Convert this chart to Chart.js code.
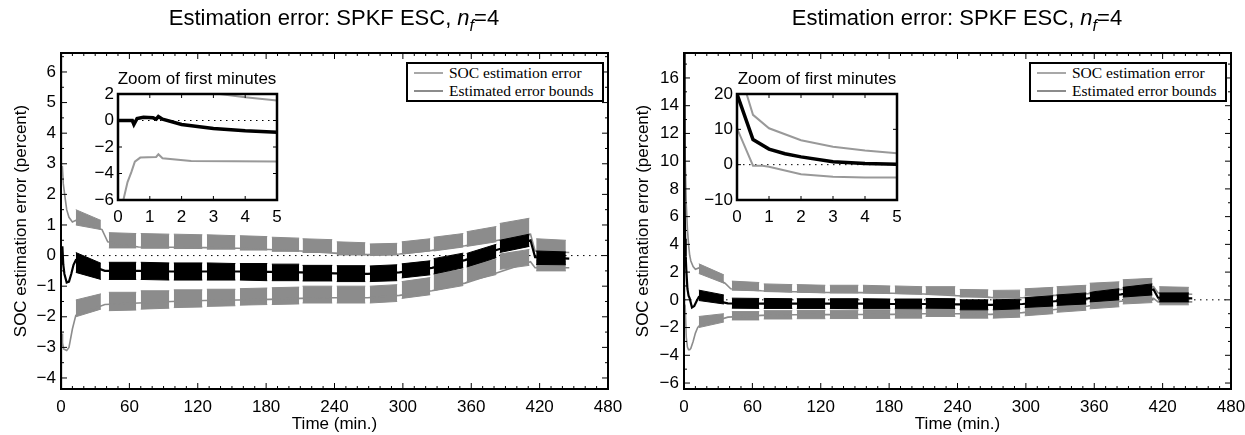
<!DOCTYPE html>
<html>
<head>
<meta charset="utf-8">
<script src="https://cdn.jsdelivr.net/npm/chart.js@4/dist/chart.umd.min.js"></script>
<style>
  body { margin: 0; background: #fff; }
  #wrap { position: relative; width: 1245px; height: 435px; overflow: hidden; font-family: "Liberation Sans", Arial, sans-serif; color: #000; }
  canvas { position: absolute; }
  .title { position: absolute; top: 5px; font-size: 22px; line-height: 26px; white-space: nowrap; transform: translateX(-50%); }
  .title sub { font-size: 16px; vertical-align: -6px; line-height: 0; }
  .ititle { position: absolute; top: 69px; font-size: 17px; line-height: 20px; white-space: nowrap; transform: translateX(-50%); }
  .legend { position: absolute; top: 62px; width: 198px; height: 40px; box-sizing: border-box; border: 2px solid #000; background: #fff;
            font-family: "Liberation Serif", "Times New Roman", serif; font-size: 15.5px; line-height: 18px; }
  .legend div { height: 18px; white-space: nowrap; }
  .legend span { display: inline-block; width: 29px; height: 2px; margin: 0 6px 0 6px; vertical-align: 4px; }
</style>
</head>
<body>
<div id="wrap">
  <canvas id="mainL" width="622" height="435" style="left:0;top:0;width:622px;height:435px"></canvas>
  <canvas id="mainR" width="623" height="435" style="left:622px;top:0;width:623px;height:435px"></canvas>
  <canvas id="insetL" width="210" height="175" style="left:78px;top:60px;width:210px;height:175px"></canvas>
  <canvas id="insetR" width="210" height="175" style="left:697px;top:60px;width:210px;height:175px"></canvas>
  <div class="title" style="left:334px">Estimation error: SPKF ESC, <i>n</i><sub><i>f</i></sub>=4</div>
  <div class="title" style="left:957px">Estimation error: SPKF ESC, <i>n</i><sub><i>f</i></sub>=4</div>
  <div class="ititle" style="left:197px">Zoom of first minutes</div>
  <div class="ititle" style="left:817px">Zoom of first minutes</div>
  <div class="legend" style="left:406px">
    <div><span style="background:#a8a8a8"></span>SOC estimation error</div>
    <div><span style="background:#8c8c8c"></span>Estimated error bounds</div>
  </div>
  <div class="legend" style="left:1029px">
    <div><span style="background:#a8a8a8"></span>SOC estimation error</div>
    <div><span style="background:#8c8c8c"></span>Estimated error bounds</div>
  </div>
</div>
<script>
// tick labels
const xTicks = [0, 60, 120, 180, 240, 300, 360, 420, 480];
const yTicksL = [-4, -3, -2, -1, 0, 1, 2, 3, 4, 5, 6];
const yTicksR = [-6, -4, -2, 0, 2, 4, 6, 8, 10, 12, 14, 16];
const insetXTicks = [0, 1, 2, 3, 4, 5];
const insetYTicksL = [-6, -4, -2, 0, 2];
const insetYTicksR = [-10, 0, 10, 20];
const zeroT = [0, 480];
const zeroV = [0, 0];

// noisy stretches of the drive cycle (minutes)
const burstStart = [13, 42, 70, 99, 128, 157, 185, 212, 242, 271, 299, 327, 356, 385, 417];
const burstEnd   = [35, 66, 95, 124, 153, 181, 209, 238, 267, 295, 324, 353, 382, 411, 443];

// ---- left panel ----
const leftErrT = [0, 0.5, 1.2, 2, 3, 5, 7, 9, 11, 13, 38.5, 68, 97, 126, 155, 183, 210.5, 240, 269, 297, 325.5, 354.5, 383.5, 412, 416, 446];
const leftErr  = [0, -0.3, 0.3, -0.3, -0.6, -0.88, -0.85, -0.6, -0.3, -0.15, -0.5, -0.5, -0.52, -0.52, -0.52, -0.53, -0.55, -0.58, -0.6, -0.55, -0.4, -0.15, 0.2, 0.5, -0.05, -0.1];
const leftErrHi = [[0.1, -0.25], [-0.22, -0.22], [-0.22, -0.24], [-0.24, -0.24], [-0.24, -0.26], [-0.26, -0.26], [-0.28, -0.28], [-0.32, -0.32], [-0.33, -0.33], [-0.34, -0.3], [-0.27, -0.17], [-0.1, 0.08], [0.07, 0.37], [0.5, 0.7], [0.15, 0.12]];
const leftErrLo = [[-0.55, -0.78], [-0.78, -0.78], [-0.78, -0.8], [-0.8, -0.8], [-0.8, -0.8], [-0.8, -0.82], [-0.82, -0.82], [-0.83, -0.83], [-0.85, -0.85], [-0.85, -0.82], [-0.73, -0.63], [-0.6, -0.4], [-0.37, -0.07], [0.1, 0.3], [-0.29, -0.3]];

const leftUpT = [0, 0.3, 0.6, 1.2, 2, 3.2, 5, 7, 10, 13, 36, 41, 68, 97, 126, 155, 183, 210.5, 240, 269, 297, 325.5, 354.5, 383.5, 412, 416, 446];
const leftUp  = [7.5, 4.2, 2.9, 2.9, 2.35, 2.0, 1.5, 1.25, 1.1, 1.15, 0.85, 0.45, 0.28, 0.27, 0.26, 0.24, 0.2, 0.15, 0.08, 0.03, 0.05, 0.17, 0.32, 0.5, 0.7, 0.15, 0.1];
const leftUpHi = [[1.5, 1.15], [0.75, 0.72], [0.72, 0.7], [0.7, 0.68], [0.68, 0.65], [0.65, 0.62], [0.6, 0.57], [0.55, 0.52], [0.45, 0.42], [0.38, 0.4], [0.45, 0.55], [0.6, 0.72], [0.78, 0.95], [1.05, 1.22], [0.55, 0.5]];
const leftUpLo = [[1.0, 0.85], [0.25, 0.25], [0.24, 0.24], [0.23, 0.23], [0.21, 0.21], [0.18, 0.18], [0.14, 0.14], [0.1, 0.1], [0.02, 0.02], [0.0, 0.02], [0.05, 0.15], [0.15, 0.28], [0.3, 0.45], [0.5, 0.65], [0.12, 0.1]];

const leftDnT = [0, 0.12, 0.3, 0.42, 0.53, 0.7, 1.2, 1.27, 1.4, 2.3, 5, 7, 10, 13, 38.5, 68, 97, 126, 155, 183, 210.5, 240, 269, 297, 325.5, 354.5, 383.5, 412, 416, 446];
const leftDn  = [-8, -6.5, -4.65, -3.9, -3.1, -2.8, -2.75, -2.55, -2.85, -3.05, -3.1, -3.0, -2.4, -1.95, -1.6, -1.55, -1.5, -1.47, -1.45, -1.43, -1.4, -1.38, -1.38, -1.3, -1.15, -0.9, -0.55, -0.2, -0.4, -0.4];
const leftDnHi = [[-1.45, -1.25], [-1.2, -1.2], [-1.15, -1.15], [-1.12, -1.12], [-1.1, -1.1], [-1.08, -1.06], [-1.05, -1.03], [-1.0, -1.0], [-1.0, -1.0], [-1.0, -0.95], [-0.85, -0.72], [-0.6, -0.45], [-0.32, -0.12], [0.05, 0.2], [-0.15, -0.18]];
const leftDnLo = [[-2.0, -1.75], [-1.8, -1.78], [-1.75, -1.72], [-1.7, -1.68], [-1.66, -1.64], [-1.62, -1.6], [-1.6, -1.58], [-1.55, -1.55], [-1.55, -1.55], [-1.55, -1.5], [-1.4, -1.28], [-1.15, -0.98], [-0.85, -0.62], [-0.45, -0.32], [-0.5, -0.5]];

// ---- right panel ----
const rightErrT = [0, 0.5, 1, 1.5, 2, 3, 4, 5, 7, 9, 11, 13, 38.5, 68, 97, 126, 155, 183, 210.5, 240, 269, 297, 325.5, 354.5, 383.5, 412, 416, 446];
const rightErr  = [20, 7.1, 4.4, 3.1, 2.2, 0.8, 0.3, 0.1, -0.55, -0.45, -0.1, 0.2, -0.25, -0.28, -0.28, -0.28, -0.28, -0.3, -0.3, -0.33, -0.36, -0.3, -0.1, 0.1, 0.4, 0.75, 0.15, 0.1];
const rightErrHi = [[0.7, 0.35], [0.12, 0.1], [0.1, 0.08], [0.08, 0.08], [0.08, 0.08], [0.08, 0.06], [0.06, 0.06], [0.1, 0.08], [0.0, 0.0], [0.0, 0.05], [0.15, 0.3], [0.35, 0.5], [0.55, 0.8], [0.9, 1.15], [0.5, 0.5]];
const rightErrLo = [[-0.05, -0.3], [-0.6, -0.62], [-0.62, -0.62], [-0.62, -0.62], [-0.62, -0.64], [-0.64, -0.64], [-0.64, -0.65], [-0.6, -0.62], [-0.72, -0.72], [-0.72, -0.65], [-0.55, -0.45], [-0.4, -0.3], [-0.15, 0.0], [0.2, 0.35], [-0.15, -0.15]];

const rightUpT = [0, 0.3, 0.5, 1, 2, 3, 4, 5, 6, 8, 10, 13, 36, 41, 68, 97, 126, 155, 183, 210.5, 240, 269, 297, 325.5, 354.5, 383.5, 412, 416, 446];
const rightUp  = [30, 20, 14.1, 10.3, 6.9, 5.1, 4.0, 3.2, 2.8, 2.4, 2.2, 2.3, 1.2, 0.8, 0.65, 0.58, 0.53, 0.52, 0.47, 0.42, 0.3, 0.18, 0.15, 0.32, 0.45, 0.75, 0.95, 0.5, 0.4];
const rightUpHi = [[2.6, 1.8], [1.35, 1.25], [1.15, 1.1], [1.1, 1.05], [1.05, 1.05], [1.05, 1.0], [1.0, 0.95], [0.95, 0.95], [0.75, 0.72], [0.68, 0.7], [0.8, 0.9], [0.95, 1.05], [1.2, 1.3], [1.45, 1.55], [0.95, 0.9]];
const rightUpLo = [[1.9, 1.2], [0.7, 0.65], [0.6, 0.55], [0.55, 0.5], [0.5, 0.5], [0.5, 0.45], [0.45, 0.4], [0.38, 0.36], [0.2, 0.2], [0.12, 0.15], [0.28, 0.35], [0.38, 0.45], [0.65, 0.75], [0.85, 0.9], [0.5, 0.45]];

const rightDnT = [0, 0.5, 1, 2, 3, 4, 5, 6, 8, 10, 12, 13, 38.5, 68, 97, 126, 155, 183, 210.5, 240, 269, 297, 325.5, 354.5, 383.5, 412, 416, 446];
const rightDn  = [10.3, -0.3, -0.4, -2.7, -3.4, -3.6, -3.6, -3.5, -3.0, -2.4, -2.0, -1.9, -1.25, -1.12, -1.08, -1.07, -1.06, -1.05, -1.0, -1.0, -1.05, -0.92, -0.7, -0.45, -0.1, 0.1, -0.15, -0.15];
const rightDnHi = [[-1.2, -1.0], [-0.85, -0.85], [-0.78, -0.78], [-0.76, -0.76], [-0.75, -0.75], [-0.74, -0.74], [-0.72, -0.72], [-0.6, -0.6], [-0.67, -0.67], [-0.67, -0.6], [-0.45, -0.3], [-0.2, -0.05], [0.05, 0.2], [0.4, 0.5], [0.24, 0.2]];
const rightDnLo = [[-2.0, -1.6], [-1.45, -1.45], [-1.38, -1.38], [-1.36, -1.36], [-1.35, -1.35], [-1.34, -1.34], [-1.32, -1.32], [-1.2, -1.2], [-1.32, -1.32], [-1.32, -1.25], [-1.15, -1.0], [-0.9, -0.75], [-0.65, -0.5], [-0.3, -0.2], [-0.36, -0.36]];

// ---- insets (first five minutes) ----
const insLErrT = [0, 0.45, 0.5, 0.6, 0.8, 1.1, 1.2, 1.27, 1.4, 2, 3, 4, 5];
const insLErr  = [0, 0, -0.3, 0.15, 0.25, 0.2, 0.1, 0.3, 0.1, -0.3, -0.6, -0.78, -0.88];
const insLUpT = [0, 0.5, 1.2, 2, 3.2, 4, 5];
const insLUp  = [6, 2.8, 2.9, 2.35, 2.0, 1.75, 1.5];
const insLDnT = [0.12, 0.3, 0.42, 0.53, 0.7, 1.2, 1.27, 1.4, 2.3, 5];
const insLDn  = [-6.5, -4.65, -3.9, -3.1, -2.8, -2.75, -2.55, -2.85, -3.05, -3.1];

const insRErrT = [0, 0.5, 1, 1.5, 2, 3, 4, 5];
const insRErr  = [20, 7.1, 4.4, 3.1, 2.2, 0.8, 0.3, 0.1];
const insRUpT = [0.2, 0.3, 0.5, 1, 2, 3, 4, 5];
const insRUp  = [23, 20, 14.1, 10.3, 6.9, 5.1, 4.0, 3.2];
const insRDnT = [0, 0.5, 0.8, 1, 2, 3, 4, 5];
const insRDn  = [10.3, -0.3, -0.3, -0.6, -2.7, -3.4, -3.6, -3.6];

Chart.defaults.font.family = '"Liberation Sans", Arial, sans-serif';
Chart.defaults.font.size = 17;
Chart.defaults.color = '#000';

// box round the plot with inward ticks on all four sides
const frameTicks = {
  id: 'frameTicks',
  beforeDraw(chart, args, o) {
    if (!o.fill) return;
    const { ctx, chartArea: a } = chart;
    ctx.save();
    ctx.fillStyle = o.fill;
    ctx.fillRect(a.left, a.top, a.right - a.left, a.bottom - a.top);
    ctx.restore();
  },
  afterDatasetsDraw(chart, args, o) {
    const { ctx, chartArea: a, scales: { x, y } } = chart;
    ctx.save();
    ctx.strokeStyle = '#000';
    ctx.lineWidth = 1;
    ctx.beginPath();
    const walk = (scale, minor, cb) => {
      const major = scale.ticks.map(t => t.value);
      major.forEach(v => cb(scale.getPixelForValue(v), o.major));
      if (!minor) return;
      for (let k = Math.ceil(scale.min / minor); k * minor <= scale.max; k++) {
        const v = k * minor;
        if (!major.some(m => Math.abs(m - v) < 1e-6)) cb(scale.getPixelForValue(v), o.minor);
      }
    };
    walk(x, o.xMinor, (p, len) => {
      ctx.moveTo(p, a.bottom); ctx.lineTo(p, a.bottom - len);
      ctx.moveTo(p, a.top); ctx.lineTo(p, a.top + len);
    });
    walk(y, o.yMinor, (p, len) => {
      ctx.moveTo(a.left, p); ctx.lineTo(a.left + len, p);
      ctx.moveTo(a.right, p); ctx.lineTo(a.right - len, p);
    });
    ctx.stroke();
    ctx.lineWidth = o.width;
    ctx.strokeRect(a.left, a.top, a.right - a.left, a.bottom - a.top);
    ctx.restore();
  }
};

function line(ts, vs, color, width, extra) {
  return Object.assign({
    data: ts.map((t, i) => ({ x: t, y: vs[i] })),
    showLine: true, borderColor: color, borderWidth: width,
    pointRadius: 0, fill: false, tension: 0
  }, extra);
}

// one filled strip per noisy stretch
function bands(hi, lo, color) {
  const out = [];
  burstStart.forEach((s, i) => {
    out.push(line([s, burstEnd[i]], hi[i], color, 1));
    out.push(line([s, burstEnd[i]], lo[i], color, 1, { fill: '-1', backgroundColor: color }));
  });
  return out;
}

function axis(min, max, ticks, pad, size, horizontal, title) {
  return {
    type: 'linear', min, max,
    grid: { display: false, drawTicks: false },
    border: { display: false },
    ticks: { padding: pad, autoSkip: false, maxRotation: 0, callback: v => String(v).replace('-', '\u2212') },
    afterBuildTicks: s => { s.ticks = ticks.map(v => ({ value: v })); },
    afterFit: s => {
      // fixed box sizes so the plot area lands where the original has it
      if (horizontal) { s.height = size; s.paddingLeft = 0; s.paddingRight = 0; }
      else { s.width = size; s.paddingTop = 0; s.paddingBottom = 0; }
    },
    title: title || { display: false }
  };
}

const GRAY = '#8c8c8c';

function mainChart(id, yMin, yMax, yTicks, yMinor, leftW, rightPad, s) {
  const datasets = [
    line(s.errT, s.err, '#000', 2.2),
    ...bands(s.errHi, s.errLo, '#000'),
    line(s.upT, s.up, GRAY, 1.6),
    ...bands(s.upHi, s.upLo, GRAY),
    line(s.dnT, s.dn, GRAY, 1.6),
    ...bands(s.dnHi, s.dnLo, GRAY),
    line(zeroT, zeroV, '#000', 1, { borderDash: [1.5, 4.5] })
  ];
  return new Chart(document.getElementById(id), {
    type: 'scatter',
    data: { datasets },
    options: {
      responsive: false, animation: false, events: [],
      layout: { padding: { top: 53, right: rightPad, left: 0, bottom: 0 } },
      plugins: {
        legend: { display: false }, tooltip: { enabled: false },
        frameTicks: { major: 6, minor: 3, xMinor: 10, yMinor: yMinor, width: 2 }
      },
      scales: {
        x: axis(0, 480, xTicks, 8, 46, true, { display: true, text: 'Time (min.)', padding: { top: 0, bottom: 0 } }),
        y: axis(yMin, yMax, yTicks, 5, leftW, false, { display: true, text: 'SOC estimation error (percent)', padding: { top: 11, bottom: 0 } })
      }
    },
    plugins: [frameTicks]
  });
}

function insetChart(id, yMin, yMax, yTicks, rightPad, s) {
  const datasets = [
    line(s.errT, s.err, '#000', 3.5),
    line(s.upT, s.up, '#999', 2),
    line(s.dnT, s.dn, '#999', 2),
    line([0, 5], [0, 0], '#000', 1, { borderDash: [1.5, 4.5] })
  ];
  return new Chart(document.getElementById(id), {
    type: 'scatter',
    data: { datasets },
    options: {
      responsive: false, animation: false, events: [],
      layout: { padding: { top: 34, right: rightPad, left: 0, bottom: 0 } },
      plugins: {
        legend: { display: false }, tooltip: { enabled: false },
        frameTicks: { major: 4, minor: 0, xMinor: 0, yMinor: 0, width: 2.5, fill: '#fff' }
      },
      scales: {
        x: axis(0, 5, insetXTicks, 7, 35, true),
        y: axis(yMin, yMax, yTicks, 4, 40, false)
      }
    },
    plugins: [frameTicks]
  });
}

mainChart('mainL', -4.36, 6.62, yTicksL, 0.5, 61, 14, {
  errT: leftErrT, err: leftErr, errHi: leftErrHi, errLo: leftErrLo,
  upT: leftUpT, up: leftUp, upHi: leftUpHi, upLo: leftUpLo,
  dnT: leftDnT, dn: leftDn, dnHi: leftDnHi, dnLo: leftDnLo
});
mainChart('mainR', -6.43, 17.8, yTicksR, 1, 62, 14, {
  errT: rightErrT, err: rightErr, errHi: rightErrHi, errLo: rightErrLo,
  upT: rightUpT, up: rightUp, upHi: rightUpHi, upLo: rightUpLo,
  dnT: rightDnT, dn: rightDn, dnHi: rightDnHi, dnLo: rightDnLo
});
insetChart('insetL', -6, 2, insetYTicksL, 11, {
  errT: insLErrT, err: insLErr, upT: insLUpT, up: insLUp, dnT: insLDnT, dn: insLDn
});
insetChart('insetR', -10, 20, insetYTicksR, 10, {
  errT: insRErrT, err: insRErr, upT: insRUpT, up: insRUp, dnT: insRDnT, dn: insRDn
});
</script>
</body>
</html>
